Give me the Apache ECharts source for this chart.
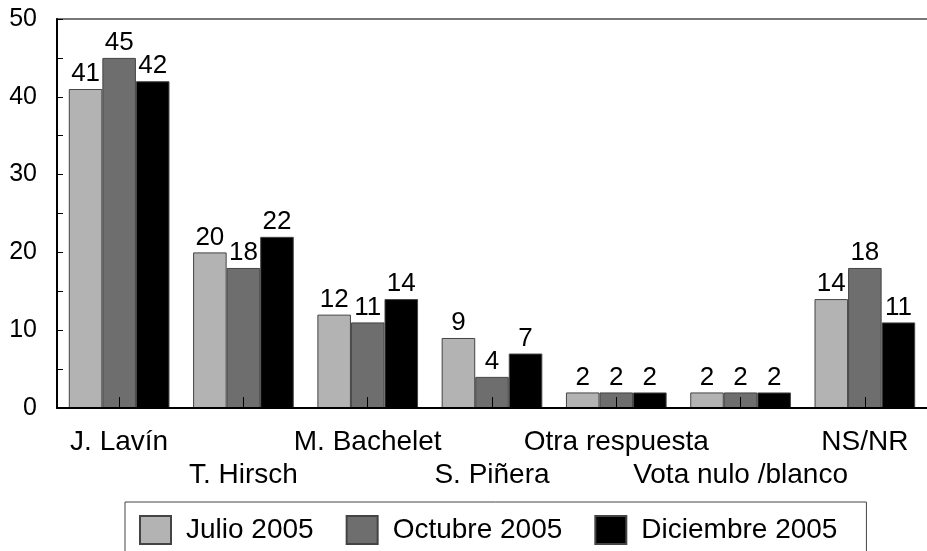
<!DOCTYPE html>
<html>
<head>
<meta charset="utf-8">
<script src="https://cdn.jsdelivr.net/npm/echarts@6/dist/echarts.min.js"></script>
<style>
  html, body { margin: 0; padding: 0; background: #fff; }
  #chart { width: 927px; height: 551px; }
</style>
</head>
<body>
<div id="chart"></div>
<script>
// categorias (candidatos)
var categorias = ['J. Lavín', 'T. Hirsch', 'M. Bachelet', 'S. Piñera', 'Otra respuesta', 'Vota nulo /blanco', 'NS/NR'];
var series_nombres = ['Julio 2005', 'Octubre 2005', 'Diciembre 2005'];
var julio = [41, 20, 12, 9, 2, 2, 14];
var octubre = [45, 18, 11, 4, 2, 2, 18];
var diciembre = [42, 22, 14, 7, 2, 2, 11];
var colores = ['#b3b3b3', '#6e6e6e', '#000000'];

var FONT = "'Liberation Sans', Arial, sans-serif";

function serie(nombre, datos, color) {
    return {
        name: nombre,
        type: 'bar',
        data: datos,
        barGap: 0,
        barCategoryGap: '19%',
        itemStyle: { color: color, borderColor: '#444', borderWidth: 1 },
        label: {
            show: true,
            position: 'top',
            distance: 2,
            color: '#000',
            fontFamily: FONT,
            fontSize: 26
        }
    };
}

var myChart = echarts.init(document.getElementById('chart'), null, { renderer: 'canvas' });
var option = {
    animation: false,
    backgroundColor: '#fff',
    grid: { left: 57, right: 0, top: 19, bottom: 143 },
    legend: {
        data: series_nombres,
        left: 125,
        top: 502,
        orient: 'horizontal',
        itemWidth: 31,
        itemHeight: 28,
        itemGap: 32,
        padding: [13, 29, 40, 14],
        borderColor: '#444',
        borderWidth: 1,
        icon: 'rect',
        textStyle: { color: '#000', fontFamily: FONT, fontSize: 28, padding: [0, 0, 0, 10] }
    },
    xAxis: [{
        type: 'category',
        data: categorias,
        z: 5,
        axisLine: { lineStyle: { color: '#000', width: 2 } },
        axisTick: { show: true, inside: true, length: 11, alignWithLabel: true, lineStyle: { color: '#000' } },
        axisLabel: {
            color: '#000',
            fontFamily: FONT,
            fontSize: 28,
            lineHeight: 33,
            margin: 18,
            interval: 0,
            formatter: function (v, i) { return i % 2 ? '\n' + v : v; }
        }
    }, {
        type: 'category',
        position: 'top',
        data: categorias,
        axisLine: { lineStyle: { color: '#777', width: 2 } },
        axisTick: { show: false },
        axisLabel: { show: false }
    }],
    yAxis: {
        type: 'value',
        min: 0,
        max: 50,
        interval: 10,
        z: 5,
        axisLine: { show: true, lineStyle: { color: '#000', width: 2 } },
        axisTick: { show: true, inside: true, length: 6, lineStyle: { color: '#000' } },
        minorTick: { show: true, splitNumber: 2, length: 6, lineStyle: { color: '#000' } },
        splitLine: { show: false },
        axisLabel: { color: '#000', fontFamily: FONT, fontSize: 25, margin: 20 }
    },
    series: [
        serie(series_nombres[0], julio, colores[0]),
        serie(series_nombres[1], octubre, colores[1]),
        serie(series_nombres[2], diciembre, colores[2])
    ]
};
myChart.setOption(option);
</script>
</body>
</html>
